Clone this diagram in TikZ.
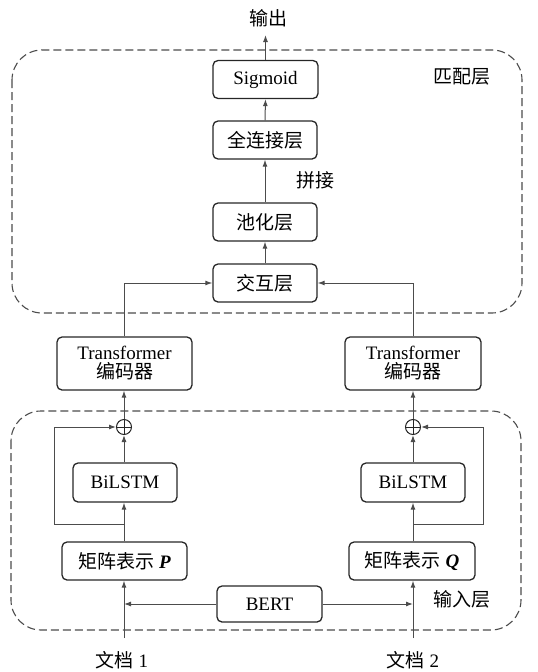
\documentclass[tikz,border=0pt]{standalone}
\usepackage{fontspec}
\setmainfont{Liberation Serif}
\newfontfamily\cjk{Noto Sans CJK SC}
\usetikzlibrary{arrows.meta}
\begin{document}
\begin{tikzpicture}[x=1pt,y=-1pt,
  box/.style={draw=black!85,line width=1.3pt,rounded corners=5pt,inner sep=0pt,font=\fontsize{19}{20}\selectfont,align=center},
  lbl/.style={inner sep=0pt,font=\fontsize{19}{20}\selectfont},
  conn/.style={draw=black!70,line width=1pt},
  arr/.style={conn,-{Latex[length=7pt,width=5pt]}},
  grp/.style={draw=black!70,line width=1.1pt,dash pattern=on 8pt off 4pt,rounded corners=30pt}]
\useasboundingbox (0,0) rectangle (538,672);
% group frames
\draw[grp] (12,50) rectangle (522,313);
\draw[grp] (11,411) rectangle (521,630);
% matching layer
\node[box,minimum width=105pt,minimum height=38pt] (sig) at (265.5,79.5) {Sigmoid};
\node[box,minimum width=104pt,minimum height=38pt] (fc) at (265,140) {\cjk 全连接层};
\node[box,minimum width=104pt,minimum height=38pt] (pool) at (265,222) {\cjk 池化层};
\node[box,minimum width=104pt,minimum height=38pt] (inter) at (265,283) {\cjk 交互层};
\node[lbl] (out) at (268,18) {\cjk 输出};
\node[lbl] (mlab) at (462,77) {\cjk 匹配层};
\node[lbl] (cat) at (315,180) {\cjk 拼接};
% transformers
\node[box,minimum width=135pt,minimum height=53pt] (t1) at (124.5,363.5) {Transformer\\[-1pt]{\cjk 编码器}};
\node[box,minimum width=136pt,minimum height=53pt] (t2) at (413,363.5) {Transformer\\[-1pt]{\cjk 编码器}};
% plus
\node[draw=black!85,line width=1pt,circle,minimum size=15pt,inner sep=0pt] (p1) at (124,427) {};
\draw[black!85,line width=1pt] (p1.north) -- (p1.south) (p1.west) -- (p1.east);
\node[draw=black!85,line width=1pt,circle,minimum size=15pt,inner sep=0pt] (p2) at (413,427) {};
\draw[black!85,line width=1pt] (p2.north) -- (p2.south) (p2.west) -- (p2.east);
% bilstm
\node[box,minimum width=104pt,minimum height=39pt] (b1) at (125,482.5) {BiLSTM};
\node[box,minimum width=104pt,minimum height=39pt] (b2) at (413,482.5) {BiLSTM};
% matrices
\node[box,minimum width=125pt,minimum height=38pt] (mp) at (124.5,561) {{\cjk 矩阵表示} \textbf{\textit{P}}};
\node[box,minimum width=126pt,minimum height=38pt] (mq) at (412,561) {{\cjk 矩阵表示} \textbf{\textit{Q}}};
\node[box,minimum width=105pt,minimum height=36pt] (bert) at (269.5,604) {BERT};
\node[lbl] (ilab) at (462,599) {\cjk 输入层};
\node[lbl] (d1) at (122,660) {{\cjk 文档} 1};
\node[lbl] (d2) at (413,660) {{\cjk 文档} 2};
\coordinate (d1top) at (124,638);
\coordinate (d2top) at (413,638);
\coordinate (j1) at (124,524);
\coordinate (j2) at (413,524);
% connectors
\draw[arr] (sig.north) -- (sig.north |- 0,35);
\draw[arr] (fc.north) -- (sig.south);
\draw[arr] (pool.north) -- (fc.south);
\draw[arr] (inter.north) -- (pool.south);
\draw[arr] (t1.north -| p1) |- (inter.west);
\draw[arr] (t2.north) |- (inter.east);
\draw[arr] (p1.north) -- (t1.south -| p1);
\draw[arr] (p2.north) -- (t2.south);
\draw[arr] (j1) -- (b1.south -| j1);
\draw[arr] (j2) -- (b2.south);
\draw[arr] (b1.north -| p1) -- (p1.south);
\draw[arr] (b2.north) -- (p2.south);
\draw[conn] (mp.north -| j1) -- (j1);
\draw[conn] (mq.north -| j2) -- (j2);
\draw[arr] (j1) -- (54,524) |- (p1.west);
\draw[arr] (j2) -- (483,524) |- (p2.east);
\draw[arr] (d1top) -- (mp.south -| d1top);
\draw[arr] (d2top) -- (mq.south -| d2top);
\draw[arr] (bert.west) -- (bert.west -| d1top);
\draw[arr] (bert.east) -- (bert.east -| d2top);
\end{tikzpicture}
\end{document}
